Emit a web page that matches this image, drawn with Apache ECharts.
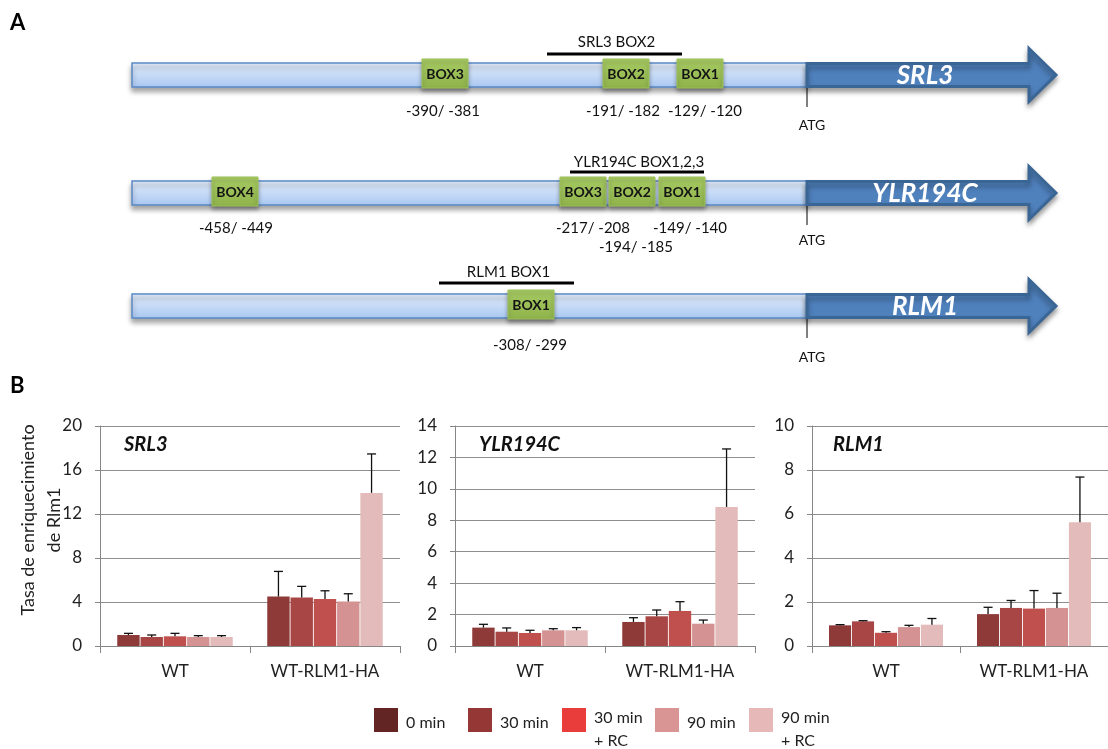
<!DOCTYPE html>
<html>
<head>
<meta charset="utf-8">
<title>Rlm1 promoter binding</title>
<script src="https://cdn.jsdelivr.net/npm/echarts@6/dist/echarts.min.js"></script>
<style>
  html, body { margin: 0; padding: 0; background: #ffffff; }
  #chart { width: 1108px; height: 749px; }
</style>
</head>
<body>
<div id="chart"></div>
<script>
// ---- Panel A: promoter schematics ----
const geneNames = ['SRL3', 'YLR194C', 'RLM1'];
const boxLabels = [['BOX3', 'BOX2', 'BOX1'], ['BOX4', 'BOX3', 'BOX2', 'BOX1'], ['BOX1']];
const siteLabels = [
  ['-390/ -381', '-191/ -182', '-129/ -120'],
  ['-458/ -449', '-217/ -208', '-194/ -185', '-149/ -140'],
  ['-308/ -299']
];
const regionLabels = ['SRL3 BOX2', 'YLR194C BOX1,2,3', 'RLM1 BOX1'];

// ---- Panel B: ChIP enrichment ----
const strains = ['WT', 'WT-RLM1-HA'];
const timePoints = ['0 min', '30 min', '30 min + RC', '90 min', '90 min + RC'];

const srl3Wt = [1.0, 0.82, 0.88, 0.82, 0.82];
const srl3Ha = [4.5, 4.42, 4.27, 4.05, 13.92];
const srl3WtErr = [0.15, 0.18, 0.27, 0.12, 0.12];
const srl3HaErr = [2.28, 1.0, 0.75, 0.7, 3.54];

const ylrWt = [1.17, 0.91, 0.83, 1.0, 1.0];
const ylrHa = [1.53, 1.89, 2.23, 1.42, 8.85];
const ylrWtErr = [0.21, 0.24, 0.17, 0.1, 0.17];
const ylrHaErr = [0.27, 0.4, 0.59, 0.23, 3.69];

const rlm1Wt = [0.94, 1.12, 0.6, 0.86, 0.97];
const rlm1Ha = [1.45, 1.73, 1.7, 1.73, 5.63];
const rlm1WtErr = [0.03, 0.03, 0.05, 0.08, 0.28];
const rlm1HaErr = [0.31, 0.34, 0.82, 0.67, 2.05];

const yMax = [20, 14, 10];
const yStep = [4, 2, 2];

// ---- styling ----
const FONT = 'Lato';
const barColors = ['#8E3A39', '#A84645', '#C0504D', '#D49392', '#E2BBBA'];
const legendColors = ['#632523', '#953735', '#E83D3A', '#D99594', '#E6B9B8'];
const axisGray = '#868686';
const BAR_CAT_GAP = 0.23;
const BAR_GAP = 0.04;

// schematic layout (pixels)
const rowTop = [63, 181, 294];
const rowH = 24;
const promoterX = [132, 807];
const boxLeft = [[422, 603, 677], [212, 560, 609, 659], [508]];
const boxW = 46, boxH = 29;
const siteX = [[443, 623, 705], [236, 593, 636, 690], [530]];
const siteY = [[111, 111, 111], [228, 228, 247, 228], [345]];
const regionSpan = [[547, 682], [570, 704], [439, 574]];
const regionLineY = [54, 172, 283];
const regionTextY = [42, 162, 272];
const atgTextY = [125, 240, 357];

function txt(text, x, y, font, fill, extra, align) {
  return Object.assign({
    type: 'text', x: x, y: y, silent: true,
    style: {
      text: text, font: font, fill: fill || '#111',
      align: align || 'center', verticalAlign: 'middle'
    }
  }, extra || {});
}

const graphics = [];
graphics.push(txt('A', 10, 23, 'bold 22px ' + FONT, '#000', null, 'left'));
graphics.push(txt('B', 10, 386, 'bold 22px ' + FONT, '#000', null, 'left'));

geneNames.forEach(function (gene, r) {
  const top = rowTop[r];
  const cy = top + rowH / 2;
  // promoter bar
  graphics.push({
    type: 'rect', silent: true,
    shape: { x: promoterX[0], y: top, width: promoterX[1] - promoterX[0], height: rowH },
    style: {
      fill: new echarts.graphic.LinearGradient(0, 0, 0, 1, [
        { offset: 0, color: '#e4eefc' }, { offset: 1, color: '#a9c7f1' }
      ]),
      stroke: '#5b8bc7', lineWidth: 1.5,
      shadowBlur: 5, shadowOffsetY: 4, shadowColor: 'rgba(0,0,0,0.35)'
    }
  });
  // coding sequence arrow
  const bx = promoterX[1], hx = 1029, tip = 1056, bh = 11.5, hh = 26.5;
  graphics.push({
    type: 'polygon', silent: true,
    shape: { points: [[bx, cy - bh], [hx, cy - bh], [hx, cy - hh], [tip, cy], [hx, cy + hh], [hx, cy + bh], [bx, cy + bh]] },
    style: {
      fill: '#4f81bd', stroke: '#3a6695', lineWidth: 3, lineJoin: 'miter',
      shadowBlur: 5, shadowOffsetY: 4, shadowColor: 'rgba(0,0,0,0.35)'
    }
  });
  graphics.push({
    type: 'text', x: 925, y: cy + 1, silent: true,
    style: {
      text: gene, font: 'italic bold 26px ' + FONT, fill: '#ffffff',
      align: 'center', verticalAlign: 'middle',
      shadowColor: 'rgba(0,0,0,0.45)', shadowBlur: 3, shadowOffsetY: 2
    }
  });
  // ATG mark
  graphics.push({
    type: 'line', silent: true,
    shape: { x1: bx, y1: top + rowH + 1, x2: bx, y2: top + rowH + 20 },
    style: { stroke: '#000', lineWidth: 1 }
  });
  graphics.push(txt('ATG', 812, atgTextY[r], '14px ' + FONT, '#111'));
  // binding boxes
  boxLabels[r].forEach(function (lab, i) {
    graphics.push({
      type: 'rect', silent: true,
      shape: { x: boxLeft[r][i], y: top - 4, width: boxW, height: boxH },
      style: {
        fill: new echarts.graphic.LinearGradient(0, 0, 0, 1, [
          { offset: 0, color: '#a8cc64' }, { offset: 1, color: '#8fb24b' }
        ]),
        stroke: '#9dc25a', lineWidth: 1,
        shadowBlur: 4, shadowOffsetY: 3, shadowColor: 'rgba(0,0,0,0.35)'
      }
    });
    graphics.push(txt(lab, boxLeft[r][i] + boxW / 2, top - 4 + boxH / 2 + 1, 'bold 14px ' + FONT, '#141414'));
    graphics.push(txt(siteLabels[r][i], siteX[r][i], siteY[r][i], '15px ' + FONT, '#111'));
  });
  // analysed region
  graphics.push({
    type: 'line', silent: true,
    shape: { x1: regionSpan[r][0], y1: regionLineY[r], x2: regionSpan[r][1], y2: regionLineY[r] },
    style: { stroke: '#000', lineWidth: 3 }
  });
  graphics.push(txt(regionLabels[r], (regionSpan[r][0] + regionSpan[r][1]) / 2 + 2, regionTextY[r], '15px ' + FONT, '#111'));
});

// y-axis title of the first chart (two lines, rotated)
graphics.push(txt('Tasa de enriquecimiento', 28, 520, '18px ' + FONT, '#222', { rotation: Math.PI / 2 }));
graphics.push(txt('de Rlm1', 54, 520, '18px ' + FONT, '#222', { rotation: Math.PI / 2 }));

// legend: colour keys with one- or two-line captions
const legendX = [374, 468, 562, 655, 749];
timePoints.forEach(function (tp, i) {
  graphics.push({
    type: 'rect', silent: true,
    shape: { x: legendX[i], y: 708, width: 24, height: 24 },
    style: { fill: legendColors[i] }
  });
  const parts = tp.split(' + ');
  if (parts.length === 1) {
    graphics.push(txt(tp, legendX[i] + 32, 723, '16px ' + FONT, '#222', null, 'left'));
  } else {
    graphics.push(txt(parts[0], legendX[i] + 32, 718, '16px ' + FONT, '#222', null, 'left'));
    graphics.push(txt('+ ' + parts[1], legendX[i] + 32, 741, '16px ' + FONT, '#222', null, 'left'));
  }
});

// ---- charts ----
const gridLeft = [100, 455, 812];
const geneData = [
  { wt: srl3Wt, ha: srl3Ha, wtErr: srl3WtErr, haErr: srl3HaErr },
  { wt: ylrWt, ha: ylrHa, wtErr: ylrWtErr, haErr: ylrHaErr },
  { wt: rlm1Wt, ha: rlm1Ha, wtErr: rlm1WtErr, haErr: rlm1HaErr }
];
const titleLeft = [124, 479, 833];

const grids = gridLeft.map(function (l) {
  return { left: l, top: 426, width: 300, height: 220, containLabel: false };
});

const xAxes = gridLeft.map(function (l, i) {
  return {
    type: 'category', gridIndex: i, data: strains, boundaryGap: true,
    axisLine: { show: true, lineStyle: { color: axisGray, width: 1 } },
    axisTick: { show: true, length: 7, interval: 0, lineStyle: { color: axisGray } },
    axisLabel: { fontFamily: FONT, fontSize: 17, color: '#222', margin: 17, interval: 0 },
    splitLine: { show: false }
  };
});

const yAxes = gridLeft.map(function (l, i) {
  return {
    type: 'value', gridIndex: i, min: 0, max: yMax[i], interval: yStep[i],
    axisLine: { show: true, lineStyle: { color: axisGray, width: 1 } },
    axisTick: { show: true, length: 5, lineStyle: { color: axisGray } },
    axisLabel: { fontFamily: FONT, fontSize: 17, color: '#222', margin: 18 },
    splitLine: { show: true, lineStyle: { color: '#8e8e8e', width: 1 } }
  };
});

const series = [];
geneData.forEach(function (g, gi) {
  timePoints.forEach(function (tp, t) {
    series.push({
      type: 'bar', name: tp, xAxisIndex: gi, yAxisIndex: gi,
      data: [g.wt[t], g.ha[t]],
      barCategoryGap: (BAR_CAT_GAP * 100) + '%',
      barGap: (BAR_GAP * 100) + '%',
      itemStyle: { color: barColors[t] },
      silent: true
    });
  });
  const errData = [];
  [g.wt, g.ha].forEach(function (vals, c) {
    const errs = c === 0 ? g.wtErr : g.haErr;
    vals.forEach(function (v, t) { errData.push([c, v, errs[t], t]); });
  });
  series.push({
    type: 'custom', name: 'error', xAxisIndex: gi, yAxisIndex: gi, z: 5, silent: true,
    data: errData,
    renderItem: function (params, api) {
      const c = api.value(0), v = api.value(1), e = api.value(2), t = api.value(3);
      const n = timePoints.length;
      const band = api.size([1, 0])[0];
      const bw = (band * (1 - BAR_CAT_GAP)) / (n + (n - 1) * BAR_GAP);
      const total = n * bw + (n - 1) * bw * BAR_GAP;
      const x = api.coord([c, 0])[0] - total / 2 + t * bw * (1 + BAR_GAP) + bw / 2;
      const yBase = api.coord([c, v])[1];
      const yTop = api.coord([c, v + e])[1];
      const cap = 4.5;
      const st = { stroke: '#111', lineWidth: 1.3 };
      return {
        type: 'group',
        children: [
          { type: 'line', shape: { x1: x, y1: yBase, x2: x, y2: yTop }, style: st },
          { type: 'line', shape: { x1: x - cap, y1: yTop, x2: x + cap, y2: yTop }, style: st }
        ]
      };
    }
  });
});

const titles = geneNames.map(function (name, i) {
  return {
    text: name, left: titleLeft[i], top: 435, padding: 0,
    textStyle: { fontFamily: FONT, fontSize: 20, fontWeight: 'bold', fontStyle: 'italic', color: '#111' }
  };
});

const chart = echarts.init(document.getElementById('chart'), null, { renderer: 'canvas' });
chart.setOption({
  backgroundColor: '#ffffff',
  animation: false,
  title: titles,
  grid: grids,
  xAxis: xAxes,
  yAxis: yAxes,
  series: series,
  graphic: { elements: graphics }
});
</script>
</body>
</html>
